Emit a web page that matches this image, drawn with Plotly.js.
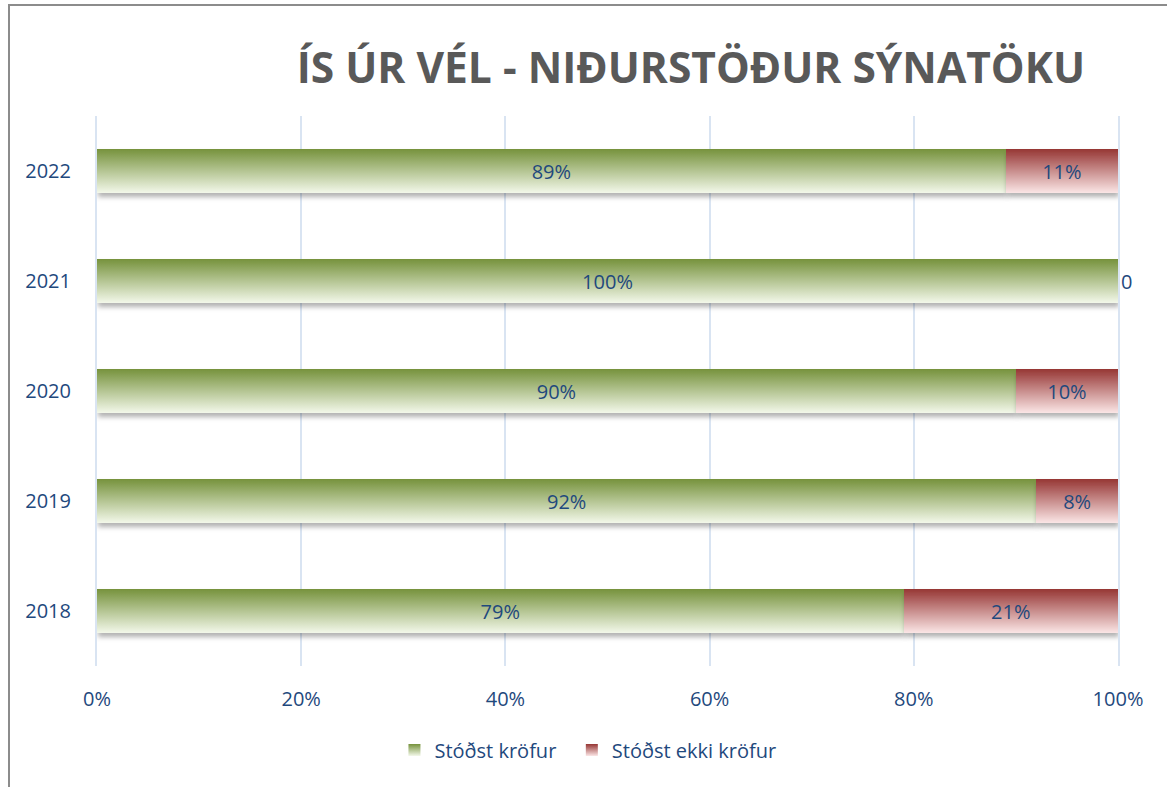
<!DOCTYPE html>
<html>
<head>
<meta charset="utf-8">
<script src="https://cdn.plot.ly/plotly-3.0.1.min.js"></script>
<style>
  html, body { margin:0; padding:0; background:#fff; overflow:hidden; }
  #chart { width:1167px; height:787px; position:absolute; left:0; top:0; }
  #frame { position:absolute; left:8px; top:4px; width:2000px; height:2000px; border:2px solid #8c8c8c; pointer-events:none; }
</style>
</head>
<body>
<div id="chart"></div>
<div id="frame"></div>
<script>
const years = ['2018', '2019', '2020', '2021', '2022'];
const passed = [79, 92, 90, 100, 89];
const failed = [21, 8, 10, 0, 11];
const passedLabels = ['79%', '92%', '90%', '100%', '89%'];
const failedLabels = ['21%', '8%', '10%', '0', '11%'];
const seriesNames = ['Stóðst kröfur', 'Stóðst ekki kröfur'];
const chartTitle = 'ÍS ÚR VÉL - NIÐURSTÖÐUR SÝNATÖKU';
const xTickVals = [0, 20, 40, 60, 80, 100];
const xTickText = ['0%', '20%', '40%', '60%', '80%', '100%'];

const labelFont = { family: 'Open Sans, sans-serif', size: 20, color: '#1f497d' };
const legendFont = { family: 'Open Sans, sans-serif', size: 20, color: '#1f497d' };

const traces = [
  {
    type: 'bar', orientation: 'h', name: seriesNames[0], legend: 'legend',
    y: years, x: passed, text: passedLabels,
    textposition: 'inside', insidetextanchor: 'middle', constraintext: 'none',
    textfont: labelFont, insidetextfont: labelFont,
    marker: { color: '#9bbb59', line: { width: 0 } },
    hoverinfo: 'skip'
  },
  {
    type: 'bar', orientation: 'h', name: seriesNames[1], legend: 'legend2',
    y: years, x: failed, text: failedLabels,
    textposition: failed.map(v => v === 0 ? 'outside' : 'inside'),
    insidetextanchor: 'middle', constraintext: 'none', cliponaxis: false,
    textfont: labelFont, insidetextfont: labelFont, outsidetextfont: labelFont,
    marker: { color: '#c0504d', line: { width: 0 } },
    hoverinfo: 'skip'
  }
];

const layout = {
  width: 1167, height: 787,
  paper_bgcolor: 'rgba(0,0,0,0)', plot_bgcolor: 'rgba(0,0,0,0)',
  barmode: 'stack', bargap: 0.6,
  margin: { l: 97, r: 49, t: 116, b: 121 },
  title: {
    text: '<b>' + chartTitle + '</b>',
    font: { family: 'Open Sans, sans-serif', size: 42.5, color: '#595959' },
    xref: 'container', x: 0.592, xanchor: 'center',
    yref: 'container', y: 0.913, yanchor: 'middle'
  },
  xaxis: {
    range: [0, 100], tickvals: xTickVals, ticktext: xTickText,
    showgrid: true, gridcolor: '#d9e4f2', gridwidth: 2,
    zeroline: false, showline: false, ticks: '',
    ticklabelstandoff: 19,
    tickfont: { family: 'Open Sans, sans-serif', size: 20, color: '#1f497d' },
    fixedrange: true
  },
  yaxis: {
    type: 'category', categoryorder: 'array', categoryarray: years,
    showgrid: false, zeroline: false, showline: true, mirror: true,
    linecolor: '#d9e4f2', linewidth: 2, ticks: '',
    ticklabelstandoff: 20,
    tickfont: { family: 'Open Sans, sans-serif', size: 20, color: '#1f497d' },
    fixedrange: true
  },
  showlegend: true,
  legend: {
    orientation: 'h', xref: 'container', yref: 'container',
    x: 0.338, xanchor: 'left', y: 0.047, yanchor: 'middle',
    font: legendFont, itemwidth: 30, bgcolor: 'rgba(0,0,0,0)'
  },
  legend2: {
    orientation: 'h', xref: 'container', yref: 'container',
    x: 0.490, xanchor: 'left', y: 0.047, yanchor: 'middle',
    font: legendFont, itemwidth: 30, bgcolor: 'rgba(0,0,0,0)'
  }
};

Plotly.newPlot('chart', traces, layout, { displayModeBar: false, staticPlot: true }).then(function (gd) {
  const svgNS = 'http://www.w3.org/2000/svg';
  const svg = gd.querySelector('.main-svg');
  let defs = svg.querySelector('defs');
  if (!defs) { defs = document.createElementNS(svgNS, 'defs'); svg.insertBefore(defs, svg.firstChild); }
  function grad(id, top, bottom) {
    const g = document.createElementNS(svgNS, 'linearGradient');
    g.setAttribute('id', id);
    g.setAttribute('x1', '0'); g.setAttribute('y1', '0');
    g.setAttribute('x2', '0'); g.setAttribute('y2', '1');
    [[0, top], [1, bottom]].forEach(function (s) {
      const st = document.createElementNS(svgNS, 'stop');
      st.setAttribute('offset', s[0]);
      st.setAttribute('stop-color', s[1]);
      g.appendChild(st);
    });
    defs.appendChild(g);
  }
  grad('gGreen', '#76923c', '#f3f8ea');
  grad('gRed', '#963634', '#fbe6e6');
  const f = document.createElementNS(svgNS, 'filter');
  f.setAttribute('id', 'barShadow');
  f.setAttribute('x', '-5%'); f.setAttribute('y', '-20%');
  f.setAttribute('width', '110%'); f.setAttribute('height', '170%');
  const ds = document.createElementNS(svgNS, 'feDropShadow');
  ds.setAttribute('dx', '1'); ds.setAttribute('dy', '4');
  ds.setAttribute('stdDeviation', '2.5');
  ds.setAttribute('flood-color', '#000'); ds.setAttribute('flood-opacity', '0.3');
  f.appendChild(ds);
  defs.appendChild(f);

  const fills = ['url(#gGreen)', 'url(#gRed)'];
  gd.querySelectorAll('.barlayer .trace').forEach(function (t, i) {
    t.querySelectorAll('.point path').forEach(function (p) {
      p.style.fill = fills[i];
      p.setAttribute('filter', 'url(#barShadow)');
    });
  });
  const legendFills = { legend: fills[0], legend2: fills[1] };
  Object.keys(legendFills).forEach(function (cls) {
    gd.querySelectorAll('.' + cls + ' .legendpoints path').forEach(function (p) { p.style.fill = legendFills[cls]; });
  });
});
</script>
</body>
</html>
